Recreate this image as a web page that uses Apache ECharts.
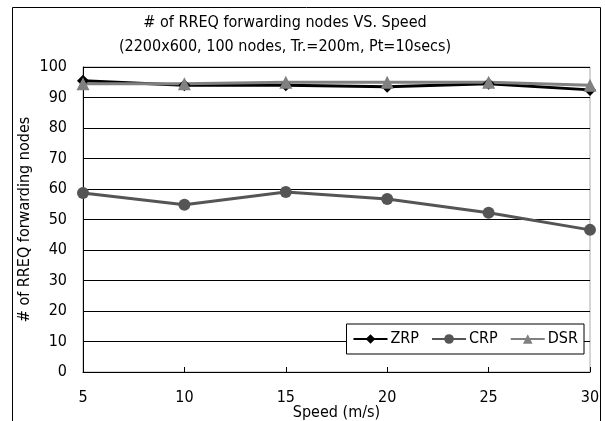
<!DOCTYPE html>
<html>
<head>
<meta charset="utf-8">
<script src="https://cdn.jsdelivr.net/npm/echarts@6/dist/echarts.min.js"></script>
<style>
  html, body { margin: 0; padding: 0; background: #fff; }
  #chart { width: 605px; height: 421px; }
</style>
</head>
<body>
<div id="chart"></div>
<script>
// speeds (m/s)
const speeds = [5, 10, 15, 20, 25, 30]
// # of RREQ forwarding nodes
const zrp = [95.5, 94, 94, 93.5, 94.5, 92.5]
const crp = [58.7, 54.8, 59, 56.7, 52.2, 46.6]
const dsr = [94.5, 94.5, 95, 95, 95, 94]

const font = 'DejaVu Sans Condensed'
const pairs = arr => speeds.map((s, i) => [s, arr[i]])

const myChart = echarts.init(document.getElementById('chart'))
myChart.setOption({
  animation: false,
  textStyle: { fontFamily: font },
  title: {
    text: '# of RREQ forwarding nodes VS. Speed\n(2200x600, 100 nodes, Tr.=200m, Pt=10secs)',
    left: 280, top: 6, textAlign: 'center',
    textStyle: { fontFamily: font, fontSize: 16, fontWeight: 'normal', color: '#000', lineHeight: 24 }
  },
  graphic: [{
    type: 'rect', shape: { x: 12.5, y: 7.5, width: 588, height: 430 },
    style: { fill: 'none', stroke: '#000', lineWidth: 1 }, silent: true
  }],
  grid: {
    left: 83, right: 15, top: 67, bottom: 49, outerBoundsMode: 'none',
    show: true, borderColor: '#aaa', borderWidth: 1
  },
  legend: {
    right: 21, top: 324,
    backgroundColor: '#fff', borderColor: '#000', borderWidth: 1,
    padding: [7, 6], itemGap: 12, itemWidth: 34, itemHeight: 12,
    textStyle: { fontFamily: font, fontSize: 16, color: '#000', padding: [0, 0, 0, -2] },
    data: ['ZRP', 'CRP', 'DSR']
  },
  xAxis: {
    type: 'value', min: 5, max: 30, interval: 5,
    name: 'Speed (m/s)', nameLocation: 'middle', nameGap: 33, nameMoveOverlap: false,
    nameTextStyle: { fontFamily: font, fontSize: 16, color: '#000' },
    axisLine: { lineStyle: { color: '#000' } },
    axisTick: { inside: true, length: 5, lineStyle: { color: '#000' } },
    axisLabel: { fontFamily: font, fontSize: 16, color: '#000', margin: 18 },
    splitLine: { show: false }
  },
  yAxis: {
    type: 'value', min: 0, max: 100, interval: 10,
    name: '# of RREQ forwarding nodes', nameLocation: 'middle', nameGap: 50, nameMoveOverlap: false,
    nameTextStyle: { fontFamily: font, fontSize: 16, color: '#000' },
    axisLine: { show: true, lineStyle: { color: '#000' } },
    axisTick: { show: false },
    axisLabel: { fontFamily: font, fontSize: 16, color: '#000', margin: 16 },
    splitLine: { lineStyle: { color: '#000', width: 1 } }
  },
  series: [
    {
      name: 'ZRP', type: 'line', data: pairs(zrp),
      symbol: 'diamond', symbolSize: 12,
      lineStyle: { color: '#000', width: 3 }, itemStyle: { color: '#000' }
    },
    {
      name: 'CRP', type: 'line', data: pairs(crp),
      symbol: 'circle', symbolSize: 12,
      lineStyle: { color: '#555', width: 3 }, itemStyle: { color: '#555' }
    },
    {
      name: 'DSR', type: 'line', data: pairs(dsr),
      symbol: 'triangle', symbolSize: 13,
      lineStyle: { color: '#808080', width: 3 }, itemStyle: { color: '#808080' }
    }
  ]
})
</script>
</body>
</html>
